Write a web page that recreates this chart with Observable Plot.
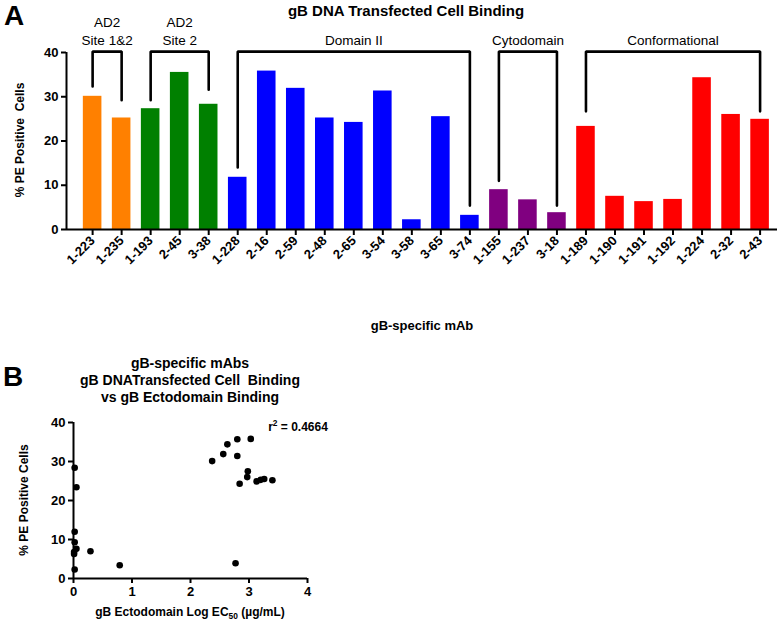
<!DOCTYPE html>
<html>
<head>
<meta charset="utf-8">
<script src="https://cdn.jsdelivr.net/npm/d3@7"></script>
<script src="https://cdn.jsdelivr.net/npm/@observablehq/plot@0.6"></script>
<style>
  body { margin: 0; background: #fff; font-family: "Liberation Sans", Arial, sans-serif; }
  #wrap { position: relative; width: 779px; height: 620px; overflow: hidden; background: #fff; }
  .t { position: absolute; white-space: pre; color: #000; line-height: 1; transform: translate(-50%, -50%); }
  .rot { transform: translate(-50%, -50%) rotate(-90deg); }
  .b { font-weight: bold; }
  #topPlot { position: absolute; left: 0; top: 0; }
  #botPlot { position: absolute; left: 0; top: 400px; }
  sup { font-size: 0.7em; vertical-align: 0.55em; line-height: 0; }
  sub { font-size: 0.7em; vertical-align: -0.35em; line-height: 0; }
</style>
</head>
<body>
<div id="wrap">
  <div id="topPlot"></div>
  <div id="botPlot"></div>
  <div class="t b" style="left:14px; top:16px; font-size:28px;">A</div>
  <div class="t b" style="left:406px; top:10px; font-size:15px;">gB DNA Transfected Cell Binding</div>
  <div class="t b rot" style="left:20px; top:140px; font-size:12px;">% PE Positive  Cells</div>
  <div class="t b" style="left:422px; top:325px; font-size:13px;">gB-specific mAb</div>

  <div class="t b" style="left:13px; top:377px; font-size:28px;">B</div>
  <div class="t b" style="left:190px; top:363px; font-size:14px;">gB-specific mAbs</div>
  <div class="t b" style="left:190px; top:380px; font-size:14px;">gB DNATransfected Cell  Binding</div>
  <div class="t b" style="left:190px; top:397px; font-size:14px;">vs gB Ectodomain Binding</div>
  <div class="t b" id="r2" style="left:298px; top:427px; font-size:12px;"></div>
  <div class="t b rot" style="left:24px; top:500px; font-size:12px;">% PE Positive Cells</div>
  <div class="t b" style="left:190px; top:612px; font-size:12px;">gB Ectodomain Log EC<sub>50</sub> (µg/mL)</div>
</div>
<script>
// ---------- Panel A data ----------
const mabs = ["1-223","1-235","1-193","2-45","3-38","1-228","2-16","2-59","2-48","2-65","3-54","3-58","3-65","3-74","1-155","1-237","3-18","1-189","1-190","1-191","1-192","1-224","2-32","2-43"];
const pctPositive = [30.1,25.2,27.3,35.5,28.3,11.8,35.8,31.9,25.2,24.2,31.3,2.2,25.5,3.2,9.0,6.7,3.8,23.3,7.5,6.3,6.8,34.3,26.0,24.9];
const epitope = ["AD2 Site 1&2","AD2 Site 1&2","AD2 Site 2","AD2 Site 2","AD2 Site 2",
  "Domain II","Domain II","Domain II","Domain II","Domain II","Domain II","Domain II","Domain II","Domain II",
  "Cytodomain","Cytodomain","Cytodomain",
  "Conformational","Conformational","Conformational","Conformational","Conformational","Conformational","Conformational"];
const groupNames = ["AD2 Site 1&2","AD2 Site 2","Domain II","Cytodomain","Conformational"];
const groupColors = ["#FF8000","#008000","#0000FF","#800080","#FF0000"];
const bracketText = ["AD2\nSite 1&2","AD2\nSite 2","Domain II","Cytodomain","Conformational"];
const bracketFirst = ["1-223","1-193","1-228","1-155","1-189"];
const bracketLast = ["1-235","3-38","3-74","3-18","2-43"];
const bracketLegFirst = [32.3,29.2,14.0,11.0,26.7];
const bracketLegLast = [29.2,31.6,5.4,5.4,26.7];
const bracketTop = 40.2;
const yTicks = [0,10,20,30,40];

// ---------- Panel B data ----------
const ectoLogEC50 = [0.02,0.05,0.02,0.02,0.05,0.01,0.01,0.02,0.29,0.79,2.77,2.37,2.56,2.63,2.80,2.80,3.03,2.98,2.97,2.84,3.13,3.20,3.26,3.40];
const scatterPct = [28.4,23.4,12.0,9.3,7.6,6.8,6.3,2.3,7.0,3.4,3.9,30.1,31.9,34.4,35.7,31.4,35.8,27.5,26.0,24.3,24.9,25.3,25.5,25.2];
const xTicksB = [0,1,2,3,4];
const r2 = "0.4664";

const FONT = '"Liberation Sans", Arial, sans-serif';

const bars = mabs.map((m, i) => ({i, mab: m, value: pctPositive[i], group: epitope[i]}));
const pos = m => mabs.indexOf(m);
const bracketPath = bracketText.flatMap((t, k) => [
  {k, x: pos(bracketFirst[k]), y: bracketLegFirst[k]},
  {k, x: pos(bracketFirst[k]), y: bracketTop},
  {k, x: pos(bracketLast[k]), y: bracketTop},
  {k, x: pos(bracketLast[k]), y: bracketLegLast[k]}
]);
const bracketLabels = bracketText.map((t, k) => ({text: t, x: (pos(bracketFirst[k]) + pos(bracketLast[k])) / 2}));

const xDomainA = [-0.9, mabs.length - 0.4];

const topPlot = Plot.plot({
  width: 779, height: 345,
  marginLeft: 66, marginRight: 2, marginTop: 52, marginBottom: 116,
  style: {fontFamily: FONT, color: "#000", background: "transparent", overflow: "visible"},
  x: {type: "linear", domain: xDomainA},
  y: {domain: [0, 40]},
  color: {domain: groupNames, range: groupColors},
  marks: [
    Plot.rectY(bars, {x1: d => d.i - 0.32, x2: d => d.i + 0.32, y1: 0, y2: "value", fill: "group"}),
    Plot.line(bracketPath, {x: "x", y: "y", z: "k", stroke: "#000", strokeWidth: 2.6, strokeLinejoin: "miter"}),
    Plot.text(bracketLabels, {x: "x", y: 41.6, text: "text", lineAnchor: "bottom", lineHeight: 1.35, fontSize: 13.5, fill: "#000"}),
    Plot.ruleY([0], {strokeWidth: 2}),
    Plot.ruleX([xDomainA[0]], {strokeWidth: 2}),
    Plot.axisY({ticks: yTicks, tickSize: 5, tickPadding: 3, fontSize: 13, fontWeight: "bold", strokeWidth: 2, label: null}),
    Plot.axisX({ticks: d3.range(mabs.length), tickFormat: i => mabs[i], tickRotate: -45, tickSize: 6, tickPadding: 3, fontSize: 13, fontWeight: "bold", strokeWidth: 2, label: null})
  ]
});
document.getElementById("topPlot").appendChild(topPlot);

const points = ectoLogEC50.map((x, i) => ({x, y: scatterPct[i]}));
const botPlot = Plot.plot({
  width: 340, height: 220,
  marginLeft: 73, marginRight: 33, marginTop: 22, marginBottom: 42,
  style: {fontFamily: FONT, color: "#000", background: "transparent", overflow: "visible"},
  x: {domain: [0, 4]},
  y: {domain: [0, 40]},
  marks: [
    Plot.ruleX([0], {strokeWidth: 2}),
    Plot.ruleY([0], {strokeWidth: 2}),
    Plot.dot(points, {x: "x", y: "y", r: 3.3, fill: "#000"}),
    Plot.axisX({ticks: xTicksB, tickFormat: d => String(d), tickSize: 5, tickPadding: 3, fontSize: 13, fontWeight: "bold", strokeWidth: 2, label: null}),
    Plot.axisY({ticks: yTicks, tickFormat: d => String(d), tickSize: 5, tickPadding: 3, fontSize: 13, fontWeight: "bold", strokeWidth: 2, label: null})
  ]
});
document.getElementById("botPlot").appendChild(botPlot);
document.getElementById("r2").innerHTML = "r<sup>2</sup> = " + r2;
</script>
</body>
</html>
